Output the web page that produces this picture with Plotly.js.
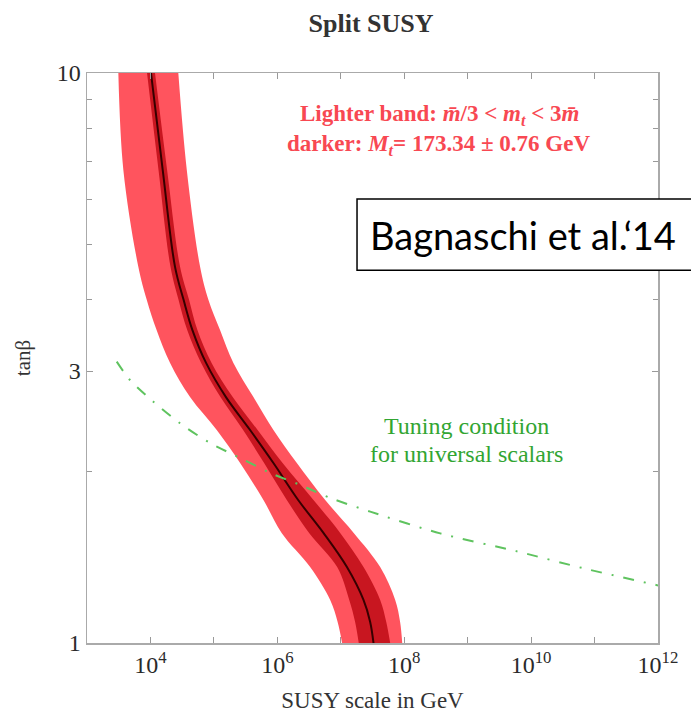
<!DOCTYPE html>
<html>
<head>
<meta charset="utf-8">
<script src="https://cdn.plot.ly/plotly-3.0.1.min.js"></script>
<style>html,body{margin:0;padding:0;background:#fff}#chart{width:691px;height:721px}</style>
</head>
<body>
<div id="chart"></div>
<script>
// tan(beta) levels at which the band edges were read
const tanBeta = [10, 6.76, 4.57, 4.0, 3.54, 3.10, 2.70, 2.364, 2.069, 1.782, 1.56, 1.359, 1.19, 1.09, 1];
// central curve (GeV)
const centralScale = [1.02e4, 1.56e4, 2.44e4, 3.33e4, 4.59e4, 7.53e4, 1.55e5, 3.72e5, 8.68e5, 2.13e6, 5.33e6, 1.25e7, 2.28e7, 2.90e7, 3.28e7];
// lighter band edges
const lightLow  = [3.12e3, 3.74e3, 6.44e3, 8.74e3, 1.25e4, 2.04e4, 4.21e4, 1.11e5, 2.59e5, 6.04e5, 1.17e6, 3.29e6, 6.81e6, 8.90e6, 1.05e7];
const lightHigh = [2.75e4, 3.74e4, 6.06e4, 8.19e4, 1.25e5, 2.03e5, 4.20e5, 8.68e5, 2.03e6, 5.68e6, 1.60e7, 4.18e7, 7.21e7, 8.60e7, 9.30e7];
// darker band edges
const darkLow  = [8.84e3, 1.34e4, 2.07e4, 2.77e4, 3.80e4, 6.30e4, 1.27e5, 2.89e5, 6.19e5, 1.41e6, 3.17e6, 8.78e6, 1.36e7, 1.68e7, 1.92e7];
const darkHigh = [1.18e4, 1.83e4, 2.93e4, 4.06e4, 5.50e4, 9.20e4, 1.98e5, 4.89e5, 1.21e6, 3.71e6, 9.79e6, 2.28e7, 4.18e7, 5.20e7, 6.01e7];
// tuning condition curve
const tuningScale = [2.94e3, 4.76e3, 1.11e4, 2.93e4, 8.71e4, 2.59e5, 7.70e5, 2.29e6, 6.81e6, 2.91e7, 3.70e8, 6.00e9, 6.73e10, 1.0e12];
const tuningTanB  = [3.116, 2.893, 2.651, 2.429, 2.243, 2.112, 1.988, 1.894, 1.797, 1.700, 1.557, 1.448, 1.352, 1.262];
// tick labels
const xTickVals = [1e4, 1e6, 1e8, 1e10, 1e12];
const xTickText = ['10<sup>4</sup>', '10<sup>6</sup>', '10<sup>8</sup>', '10<sup>10</sup>', '10<sup>12</sup>'];
const xMinorVals = [1e5, 1e7, 1e9, 1e11];
const yTickVals = [1, 3, 10];
const yTickText = ['1', '3', '10'];
const yMinorVals = [2, 4, 5, 6, 7, 8, 9];

const serif = 'Liberation Serif, Times New Roman, serif';
const edge = {width: 0, shape: 'spline', smoothing: 1};

const traces = [
  {x: lightLow, y: tanBeta, type: 'scatter', mode: 'lines', line: edge, hoverinfo: 'skip'},
  {x: lightHigh, y: tanBeta, type: 'scatter', mode: 'lines', line: edge, fill: 'tonextx',
   fillcolor: 'rgb(255,84,94)', hoverinfo: 'skip'},
  {x: darkLow, y: tanBeta, type: 'scatter', mode: 'lines', line: edge, hoverinfo: 'skip'},
  {x: darkHigh, y: tanBeta, type: 'scatter', mode: 'lines', line: edge, fill: 'tonextx',
   fillcolor: 'rgb(200,22,32)', hoverinfo: 'skip'},
  {x: centralScale, y: tanBeta, type: 'scatter', mode: 'lines',
   line: {color: 'rgb(55,0,0)', width: 2, shape: 'spline', smoothing: 1}},
  {x: tuningScale, y: tuningTanB, type: 'scatter', mode: 'lines',
   line: {color: 'rgb(95,195,95)', width: 2, dash: '11px,10px,2px,10px', shape: 'spline', smoothing: 0.8}}
];

const axisCommon = {
  showgrid: false, zeroline: false, showline: true, linecolor: '#aaa', linewidth: 1.5,
  mirror: 'ticks', ticks: 'inside', ticklen: 6, tickcolor: '#999', tickwidth: 1,
  tickfont: {family: serif, size: 24, color: '#2a2a2a'}
};

const layout = {
  width: 691, height: 721,
  margin: {l: 87, r: 33, t: 73, b: 78},
  paper_bgcolor: '#fff', plot_bgcolor: '#fff',
  showlegend: false,
  title: {text: '<b>Split SUSY</b>', x: 0.537, xanchor: 'center', y: 0.968, yanchor: 'middle',
          font: {family: serif, size: 26, color: '#333'}},
  xaxis: Object.assign({}, axisCommon, {
    type: 'log', range: [3, 12], tickmode: 'array', tickvals: xTickVals, ticktext: xTickText,
    minor: {tickmode: 'array', tickvals: xMinorVals, ticks: 'inside', ticklen: 6, tickcolor: '#999'},
    title: {text: 'SUSY scale in GeV', font: {family: serif, size: 23, color: '#333'}, standoff: 14}
  }),
  yaxis: Object.assign({}, axisCommon, {
    type: 'log', range: [0, 1], tickmode: 'array', tickvals: yTickVals, ticktext: yTickText,
    minor: {tickmode: 'array', tickvals: yMinorVals, ticks: 'inside', ticklen: 5, tickcolor: '#999'},
    title: {text: 'tanβ', font: {family: serif, size: 21, color: '#333'}, standoff: 20}
  }),
  shapes: [
    {type: 'rect', xref: 'paper', yref: 'paper', x0: 0.4729, x1: 1.08, y0: 0.654, y1: 0.779,
     fillcolor: '#fff', line: {color: '#000', width: 1.5}, layer: 'above'}
  ],
  annotations: [
    {xref: 'paper', yref: 'paper', x: 0.618, y: 0.926, showarrow: false, xanchor: 'center', yanchor: 'middle',
     text: '<b>Lighter band: <i>m̄</i>/3 &lt; <i>m<sub>t</sub></i> &lt; 3<i>m̄</i></b>',
     font: {family: serif, size: 23, color: 'rgb(248,72,82)'}},
    {xref: 'paper', yref: 'paper', x: 0.615, y: 0.874, showarrow: false, xanchor: 'center', yanchor: 'middle',
     text: '<b>darker: <i>M<sub>t</sub></i>= 173.34 ± 0.76 GeV</b>',
     font: {family: serif, size: 23, color: 'rgb(248,72,82)'}},
    {xref: 'paper', yref: 'paper', x: 0.664, y: 0.381, showarrow: false, xanchor: 'center', yanchor: 'middle',
     text: 'Tuning condition', font: {family: serif, size: 24, color: 'rgb(50,165,50)'}},
    {xref: 'paper', yref: 'paper', x: 0.664, y: 0.332, showarrow: false, xanchor: 'center', yanchor: 'middle',
     text: 'for universal scalars', font: {family: serif, size: 24, color: 'rgb(50,165,50)'}},
    {xref: 'paper', yref: 'paper', x: 0.492, y: 0.716, showarrow: false, xanchor: 'left', yanchor: 'middle',
     text: 'Bagnaschi et al.‘14', font: {family: 'Lato, Open Sans, sans-serif', size: 38, color: '#000'}}
  ]
};

Plotly.newPlot('chart', traces, layout, {displayModeBar: false, staticPlot: true});
</script>
</body>
</html>
